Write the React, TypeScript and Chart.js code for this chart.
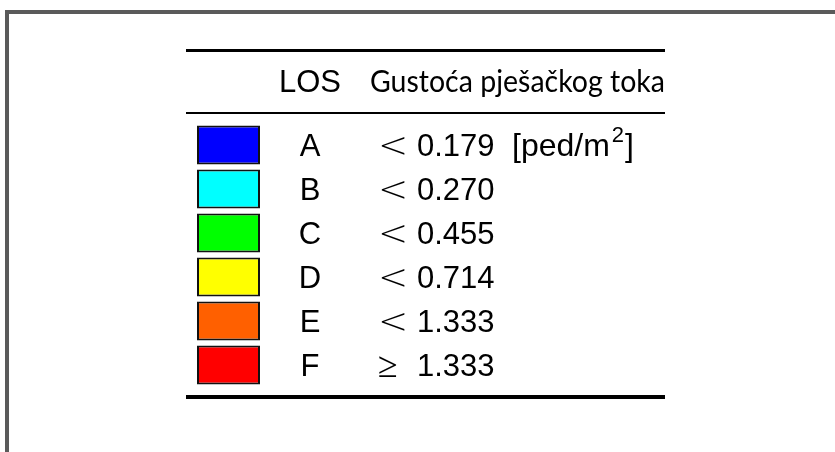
import React, { useEffect, useRef } from "react";
import { Chart, registerables } from "chart.js";

Chart.register(...registerables);

// ---- data ----
const losLevels = ["A", "B", "C", "D", "E", "F"];
const relations = ["<", "<", "<", "<", "<", "≥"];
const densityLimits = [0.179, 0.27, 0.455, 0.714, 1.333, 1.333];
const swatchColors = ["#0000ff", "#00ffff", "#00ff00", "#ffff00", "#ff6000", "#ff0000"];
const swatchSpan = [1, 1, 1, 1, 1, 1];
const headerLos = "LOS";
const headerDensity = "Gustoća pješačkog toka";
const unitText = "[ped/m";
const unitSup = "2";
const unitClose = "]";

const W = 835;
const H = 452;

const tablePlugin = {
  id: "losTable",
  afterDraw(chart: any) {
    const ctx = chart.ctx as CanvasRenderingContext2D;
    const y = chart.scales.y;
    ctx.save();
    // outer frame (top and left)
    ctx.fillStyle = "#5a5a5a";
    ctx.fillRect(5, 10, W - 5, 4);
    ctx.fillRect(5, 10, 4, H - 10);
    // rules
    ctx.fillStyle = "#000";
    ctx.fillRect(186, 49, 479, 3);
    ctx.fillRect(186, 112, 479, 2);
    ctx.fillRect(186, 395, 479, 4);
    // header
    ctx.fillStyle = "#000";
    ctx.textBaseline = "alphabetic";
    ctx.textAlign = "left";
    ctx.font = '32px "Liberation Sans"';
    ctx.fillText(headerLos, 279, 92, 62);
    ctx.font = '31px "Lato"';
    ctx.fillText(headerDensity, 370, 92, 295);
    // rows
    losLevels.forEach((lvl, i) => {
      const base = y.getPixelForTick(i) + 11;
      ctx.font = '31px "Liberation Sans"';
      ctx.textAlign = "center";
      ctx.fillText(lvl, 310, base);
      ctx.textAlign = "left";
      ctx.font = '200 36px "DejaVu Sans"';
      ctx.fillText(relations[i], 378, base + 1);
      ctx.font = '31px "Liberation Sans"';
      const val = densityLimits[i].toFixed(3);
      ctx.fillText(val, 417, base);
      if (i === 0) {
        let x = 512;
        ctx.font = '32px "Liberation Sans"';
        ctx.fillText(unitText, x, base, 109);
        x += Math.min(109, ctx.measureText(unitText).width) + 2;
        ctx.font = '22px "Liberation Sans"';
        ctx.fillText(unitSup, x, base - 14);
        x += ctx.measureText(unitSup).width + 1;
        ctx.font = '32px "Liberation Sans"';
        ctx.fillText(unitClose, x, base);
      }
    });
    ctx.restore();
  },
};

export default function App() {
  const ref = useRef<HTMLCanvasElement | null>(null);
  useEffect(() => {
    if (!ref.current) return;
    const chart = new Chart(ref.current, {
      type: "bar",
      data: {
        labels: losLevels,
        datasets: [
          {
            data: swatchSpan,
            backgroundColor: swatchColors,
            borderColor: "#111",
            borderWidth: 2,
            borderSkipped: false,
            categoryPercentage: 1,
            barPercentage: 39 / 44,
          } as any,
        ],
      },
      options: {
        indexAxis: "y",
        responsive: false,
        animation: false,
        devicePixelRatio: 1,
        layout: { padding: { left: 197, right: W - 260, top: 123, bottom: H - 387 } },
        plugins: { legend: { display: false }, tooltip: { enabled: false } },
        scales: {
          x: { display: false, min: 0, max: 1 },
          y: { display: false, offset: true },
        },
      },
      plugins: [tablePlugin],
    });
    return () => chart.destroy();
  }, []);
  return (
    <div style={{ position: "absolute", left: 0, top: 0, width: W, height: H, background: "#fff" }}>
      <canvas ref={ref} width={W} height={H} style={{ display: "block" }} />
    </div>
  );
}
